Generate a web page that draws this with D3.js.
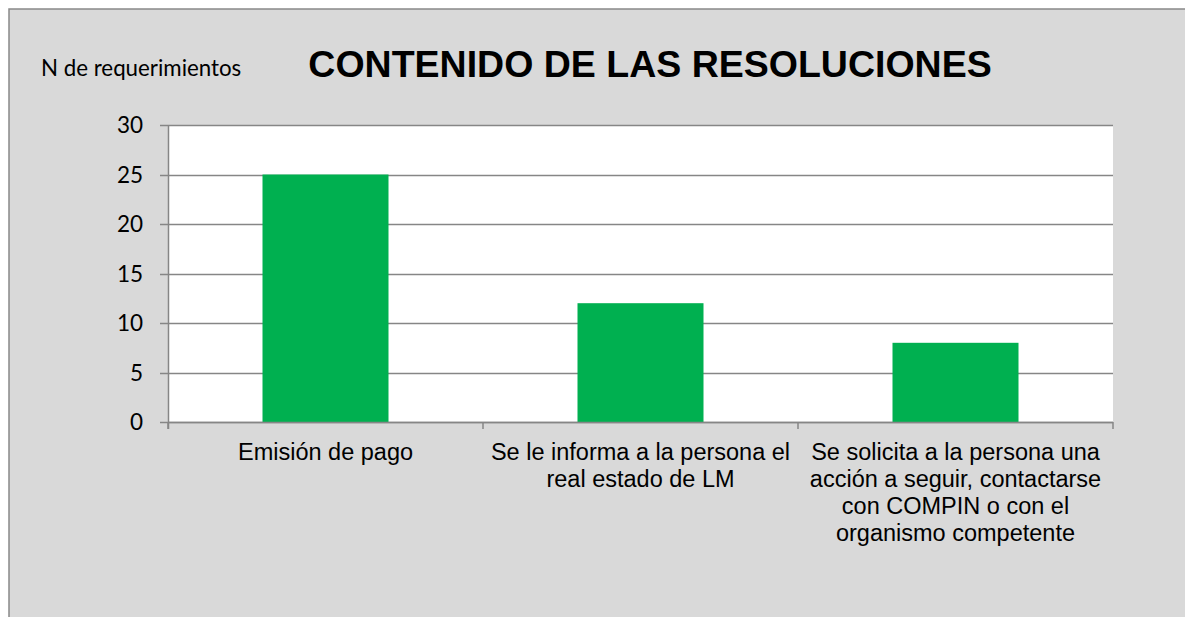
<!DOCTYPE html>
<html>
<head>
<meta charset="utf-8">
<script src="https://cdn.jsdelivr.net/npm/d3@7"></script>
<style>
  body { margin: 0; background: #fff; }
</style>
</head>
<body>
<div id="chart"></div>
<script>
const categories = [
  ["Emisión de pago"],
  ["Se le informa a la persona el", "real estado de LM"],
  ["Se solicita a la persona una", "acción a seguir, contactarse", "con COMPIN o con el", "organismo competente"]
];
const values = [25, 12, 8];
const yTicks = [0, 5, 10, 15, 20, 25, 30];
const title = "CONTENIDO DE LAS RESOLUCIONES";
const yLabel = "N de requerimientos";

const width = 1185, height = 617;
const plot = { left: 168, right: 1113, top: 125, bottom: 422 };

const svg = d3.select("#chart").append("svg")
  .attr("width", width)
  .attr("height", height);

// chart area background + border
svg.append("rect")
  .attr("x", 9).attr("y", 9)
  .attr("width", width + 10).attr("height", height + 10)
  .attr("fill", "#d9d9d9")
  .attr("stroke", "#898989")
  .attr("stroke-width", 1.5);

// plot area
svg.append("rect")
  .attr("x", plot.left).attr("y", plot.top)
  .attr("width", plot.right - plot.left).attr("height", plot.bottom - plot.top)
  .attr("fill", "#ffffff");

const x = d3.scaleBand()
  .domain(d3.range(categories.length))
  .range([plot.left, plot.right])
  .paddingInner(0.6).paddingOuter(0.3);

const xEdge = d3.scaleLinear()
  .domain([0, categories.length])
  .range([plot.left, plot.right]);

const y = d3.scaleLinear()
  .domain([0, 30])
  .range([plot.bottom, plot.top]);

// gridlines
svg.append("g")
  .selectAll("line")
  .data(yTicks)
  .enter()
  .append("line")
  .attr("x1", plot.left - 8)
  .attr("x2", plot.right)
  .attr("y1", d => Math.round(y(d)) + 0.5)
  .attr("y2", d => Math.round(y(d)) + 0.5)
  .attr("stroke", "#868686")
  .attr("stroke-width", 1.5);

// bars
svg.append("g")
  .selectAll("rect")
  .data(values)
  .enter()
  .append("rect")
  .attr("x", (d, i) => x(i))
  .attr("y", d => y(d))
  .attr("width", x.bandwidth())
  .attr("height", d => y(0) - y(d))
  .attr("fill", "#00b050");

// y axis line
svg.append("line")
  .attr("x1", plot.left + 0.5).attr("x2", plot.left + 0.5)
  .attr("y1", plot.top).attr("y2", plot.bottom + 7)
  .attr("stroke", "#868686").attr("stroke-width", 1.5);

// x axis line and ticks
svg.append("line")
  .attr("x1", plot.left).attr("x2", plot.right)
  .attr("y1", plot.bottom + 0.5).attr("y2", plot.bottom + 0.5)
  .attr("stroke", "#868686").attr("stroke-width", 1.5);

svg.append("g")
  .selectAll("line")
  .data(d3.range(categories.length + 1))
  .enter()
  .append("line")
  .attr("x1", d => xEdge(d)).attr("x2", d => xEdge(d))
  .attr("y1", plot.bottom).attr("y2", plot.bottom + 7)
  .attr("stroke", "#868686").attr("stroke-width", 1.5);

// y tick labels
svg.append("g")
  .selectAll("text")
  .data(yTicks)
  .enter()
  .append("text")
  .attr("x", 143)
  .attr("y", d => y(d) + 8)
  .attr("text-anchor", "end")
  .style("font-family", "Lato, 'Noto Sans', sans-serif")
  .style("font-size", "22.5px")
  .attr("fill", "#000")
  .text(d => d);

// category labels
const catG = svg.append("g");
categories.forEach((lines, i) => {
  const t = catG.append("text")
    .attr("text-anchor", "middle")
    .style("font-family", "'Liberation Sans', Arial, sans-serif")
    .style("font-size", "23.5px")
    .attr("fill", "#000");
  lines.forEach((line, j) => {
    t.append("tspan")
      .attr("x", x(i) + x.bandwidth() / 2)
      .attr("y", 460 + j * 27)
      .text(line);
  });
});

// title
svg.append("text")
  .attr("x", 650)
  .attr("y", 77)
  .attr("text-anchor", "middle")
  .style("font-family", "'Liberation Sans', Arial, sans-serif")
  .style("font-size", "37.5px")
  .style("font-weight", "bold")
  .attr("fill", "#000")
  .text(title);

// y axis title
svg.append("text")
  .attr("x", 41)
  .attr("y", 76)
  .style("font-family", "Lato, 'Noto Sans', sans-serif")
  .style("font-size", "22.3px")
  .attr("fill", "#000")
  .text(yLabel);
</script>
</body>
</html>
